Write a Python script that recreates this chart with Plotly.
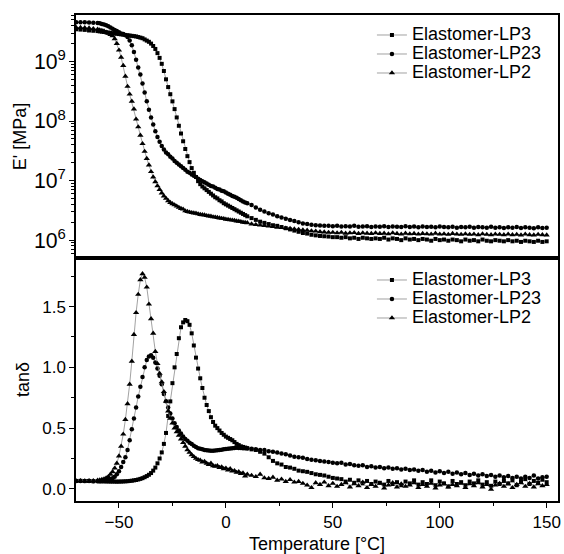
import plotly.graph_objects as go

# Temperature grid [°C]
temperature = [
    -70, -68, -66, -64, -62, -60,
    -59, -58, -57, -56, -55, -54, -53, -52, -51, -50,
    -49, -48, -47, -46, -45, -44, -43, -42, -41, -40,
    -39, -38, -37, -36, -35, -34, -33, -32, -31, -30,
    -29, -28, -27, -26, -25, -24, -23, -22, -21, -20,
    -19, -18, -17, -16, -15, -14, -13, -12, -11, -10,
    -9, -8, -7, -6, -5, -4, -3, -2, -1, 0,
    1, 2, 3, 4, 5, 6, 7, 8, 9, 10,
    12, 14, 16, 18, 20, 22, 24, 26, 28, 30,
    32, 34, 36, 38, 40, 42, 44, 46, 48, 50,
    52, 54, 56, 58, 60, 62, 64, 66, 68, 70,
    72, 74, 76, 78, 80, 82, 84, 86, 88, 90,
    92, 94, 96, 98, 100, 102, 104, 106, 108, 110,
    112, 114, 116, 118, 120, 122, 124, 126, 128, 130,
    132, 134, 136, 138, 140, 142, 144, 146, 148, 150,
]

# log10 of storage modulus E' [MPa]
log_E_LP3 = [
    9.54, 9.535, 9.53, 9.52, 9.515, 9.51,
    9.505, 9.50, 9.495, 9.49, 9.485, 9.48, 9.475, 9.47, 9.465, 9.46,
    9.455, 9.45, 9.445, 9.44, 9.435, 9.43, 9.425, 9.42, 9.41, 9.40,
    9.39, 9.37, 9.35, 9.33, 9.30, 9.26, 9.21, 9.14, 9.06, 8.96,
    8.84, 8.70, 8.57, 8.45, 8.33, 8.20, 8.06, 7.92, 7.79, 7.66,
    7.53, 7.41, 7.31, 7.21, 7.13, 7.06, 6.99, 6.94, 6.90, 6.87,
    6.84, 6.81, 6.78, 6.75, 6.72, 6.70, 6.67, 6.65, 6.62, 6.60,
    6.58, 6.56, 6.54, 6.52, 6.50, 6.48, 6.46, 6.44, 6.42, 6.40,
    6.37, 6.34, 6.31, 6.29, 6.27, 6.25, 6.24, 6.22, 6.20, 6.18,
    6.16, 6.14, 6.12, 6.11, 6.09, 6.08, 6.07, 6.065, 6.06, 6.05,
    6.05, 6.04, 6.05, 6.03, 6.04, 6.02, 6.04, 6.03, 6.02, 6.03,
    6.02, 6.04, 6.01, 6.03, 6.02, 6.00, 6.03, 6.01, 6.02, 6.00,
    6.02, 6.01, 5.99, 6.02, 6.00, 6.01, 5.99, 6.01, 6.00, 5.98,
    6.01, 5.99, 6.00, 5.98, 6.01, 5.99, 5.98, 6.00, 5.99, 5.98,
    6.00, 5.98, 5.99, 5.97, 5.99, 5.98, 5.97, 5.99, 5.97, 5.98,
]
log_E_LP23 = [
    9.66, 9.66, 9.66, 9.655, 9.65, 9.645,
    9.64, 9.63, 9.62, 9.61, 9.59, 9.57, 9.55, 9.53, 9.51, 9.49,
    9.47, 9.46, 9.44, 9.41, 9.35, 9.27, 9.16, 9.03, 8.90, 8.78,
    8.63, 8.48, 8.33, 8.19, 8.06, 7.94, 7.83, 7.73, 7.65, 7.58,
    7.52, 7.47, 7.44, 7.40, 7.37, 7.33, 7.30, 7.27, 7.24, 7.21,
    7.18, 7.15, 7.13, 7.10, 7.08, 7.06, 7.03, 7.01, 6.99, 6.97,
    6.95, 6.93, 6.91, 6.90, 6.88, 6.86, 6.85, 6.83, 6.82, 6.80,
    6.78, 6.76, 6.74, 6.73, 6.71, 6.69, 6.67, 6.65, 6.63, 6.62,
    6.59, 6.55, 6.51, 6.48, 6.45, 6.43, 6.40, 6.38, 6.36, 6.34,
    6.32, 6.30, 6.28, 6.27, 6.26, 6.25, 6.245, 6.24, 6.24, 6.235,
    6.24, 6.23, 6.235, 6.23, 6.24, 6.225, 6.23, 6.235, 6.22, 6.23,
    6.225, 6.235, 6.22, 6.23, 6.225, 6.22, 6.235, 6.22, 6.23, 6.215,
    6.23, 6.22, 6.225, 6.215, 6.23, 6.22, 6.215, 6.225, 6.21, 6.22,
    6.215, 6.225, 6.21, 6.22, 6.215, 6.21, 6.225, 6.21, 6.215, 6.205,
    6.215, 6.21, 6.22, 6.205, 6.215, 6.21, 6.20, 6.215, 6.205, 6.21,
]
log_E_LP2 = [
    9.57, 9.57, 9.565, 9.56, 9.55, 9.54,
    9.53, 9.52, 9.51, 9.49, 9.47, 9.45, 9.43, 9.38, 9.30, 9.19,
    9.07, 8.93, 8.75, 8.58, 8.45, 8.33, 8.20, 8.03, 7.90, 7.76,
    7.62, 7.49, 7.37, 7.26, 7.15, 7.06, 6.98, 6.91, 6.85, 6.79,
    6.74, 6.70, 6.66, 6.63, 6.61, 6.59, 6.57, 6.55, 6.53, 6.52,
    6.49, 6.48, 6.47, 6.46, 6.455, 6.45, 6.44, 6.43, 6.425, 6.42,
    6.41, 6.405, 6.40, 6.39, 6.385, 6.38, 6.37, 6.365, 6.36, 6.35,
    6.345, 6.34, 6.335, 6.33, 6.32, 6.315, 6.31, 6.30, 6.295, 6.29,
    6.27, 6.26, 6.25, 6.245, 6.235, 6.225, 6.215, 6.21, 6.20, 6.195,
    6.185, 6.18, 6.17, 6.165, 6.155, 6.15, 6.14, 6.135, 6.13, 6.13,
    6.12, 6.13, 6.115, 6.12, 6.125, 6.11, 6.12, 6.115, 6.11, 6.12,
    6.11, 6.115, 6.105, 6.12, 6.11, 6.10, 6.115, 6.105, 6.11, 6.10,
    6.11, 6.105, 6.10, 6.115, 6.10, 6.105, 6.095, 6.11, 6.10, 6.095,
    6.105, 6.095, 6.10, 6.09, 6.105, 6.095, 6.09, 6.10, 6.095, 6.09,
    6.10, 6.09, 6.095, 6.085, 6.10, 6.09, 6.085, 6.095, 6.09, 6.085,
]

# loss factor tan delta
tan_LP3 = [
    0.065, 0.066, 0.064, 0.065, 0.063, 0.064,
    0.063, 0.062, 0.062, 0.061, 0.061, 0.060, 0.060, 0.060, 0.059, 0.060,
    0.060, 0.061, 0.062, 0.063, 0.065, 0.067, 0.070, 0.073, 0.077, 0.082,
    0.088, 0.096, 0.105, 0.116, 0.13, 0.15, 0.175, 0.21, 0.25, 0.30,
    0.37, 0.46, 0.60, 0.72, 0.87, 1.00, 1.11, 1.24, 1.33, 1.37,
    1.39, 1.38, 1.35, 1.28, 1.18, 1.08, 0.99, 0.91, 0.83, 0.75,
    0.69, 0.64, 0.59, 0.55, 0.52, 0.50, 0.48, 0.46, 0.445, 0.43,
    0.42, 0.41, 0.40, 0.385, 0.37, 0.36, 0.35, 0.345, 0.34, 0.335,
    0.325, 0.32, 0.305, 0.29, 0.26, 0.23, 0.21, 0.20, 0.18, 0.175,
    0.165, 0.15, 0.145, 0.14, 0.13, 0.12, 0.115, 0.11, 0.10, 0.09,
    0.085, 0.08, 0.06, 0.075, 0.05, 0.07, 0.045, 0.065, 0.04, 0.06,
    0.05, 0.035, 0.065, 0.04, 0.055, 0.03, 0.06, 0.045, 0.07, 0.035,
    0.055, 0.04, 0.07, 0.03, 0.06, 0.045, 0.02, 0.065, 0.04, 0.055,
    0.03, 0.06, 0.045, 0.07, 0.035, 0.055, 0.025, 0.06, 0.04, 0.065,
    0.045, 0.07, 0.03, 0.06, 0.08, 0.04, 0.065, 0.05, 0.075, 0.055,
]
tan_LP23 = [
    0.065, 0.064, 0.065, 0.064, 0.063, 0.063,
    0.063, 0.064, 0.066, 0.068, 0.072, 0.078, 0.088, 0.10, 0.12, 0.145,
    0.18, 0.22, 0.26, 0.32, 0.40, 0.49, 0.58, 0.67, 0.76, 0.84,
    0.92, 1.00, 1.06, 1.09, 1.10, 1.08, 1.04, 0.99, 0.93, 0.86,
    0.78, 0.72, 0.67, 0.62, 0.58, 0.54, 0.51, 0.48, 0.455, 0.43,
    0.41, 0.395, 0.38, 0.37, 0.355, 0.345, 0.335, 0.33, 0.325, 0.32,
    0.318, 0.315, 0.313, 0.313, 0.315, 0.318, 0.32, 0.322, 0.325, 0.328,
    0.33, 0.333, 0.335, 0.337, 0.338, 0.337, 0.336, 0.335, 0.334, 0.332,
    0.33, 0.325, 0.32, 0.32, 0.31, 0.305, 0.30, 0.29, 0.285, 0.275,
    0.265, 0.26, 0.255, 0.245, 0.24, 0.235, 0.23, 0.225, 0.22, 0.215,
    0.21, 0.215, 0.20, 0.205, 0.195, 0.19, 0.195, 0.18, 0.185, 0.175,
    0.18, 0.17, 0.175, 0.165, 0.17, 0.16, 0.165, 0.155, 0.16, 0.15,
    0.155, 0.14, 0.15, 0.135, 0.145, 0.13, 0.14, 0.125, 0.135, 0.12,
    0.13, 0.115, 0.125, 0.11, 0.12, 0.105, 0.115, 0.10, 0.11, 0.095,
    0.105, 0.09, 0.10, 0.085, 0.10, 0.09, 0.11, 0.085, 0.095, 0.10,
]
tan_LP2 = [
    0.065, 0.066, 0.065, 0.066, 0.067, 0.07,
    0.072, 0.076, 0.082, 0.09, 0.10, 0.12, 0.14, 0.17, 0.21, 0.27,
    0.35, 0.45, 0.57, 0.70, 0.86, 1.05, 1.27, 1.45, 1.60, 1.72,
    1.77, 1.74, 1.66, 1.52, 1.40, 1.28, 1.13, 1.03, 0.95, 0.88,
    0.80, 0.72, 0.64, 0.58, 0.54, 0.50, 0.47, 0.44, 0.41, 0.38,
    0.35, 0.32, 0.30, 0.28, 0.265, 0.25, 0.24, 0.235, 0.22, 0.225,
    0.21, 0.20, 0.21, 0.19, 0.185, 0.19, 0.175, 0.18, 0.165, 0.17,
    0.155, 0.165, 0.145, 0.15, 0.135, 0.14, 0.125, 0.13, 0.105, 0.12,
    0.11, 0.10, 0.12, 0.09, 0.085, 0.095, 0.07, 0.08, 0.06, 0.075,
    0.055, 0.06, 0.045, 0.03, 0.01, 0.05, 0.035, 0.055, 0.025, 0.045,
    0.02, 0.035, 0.05, 0.015, 0.04, 0.025, 0.055, 0.01, 0.035, 0.02,
    0.045, 0.005, 0.03, 0.05, 0.015, 0.04, 0.02, 0.03, 0.05, 0.01,
    0.035, 0.02, 0.045, 0.005, 0.03, 0.04, 0.015, 0.035, 0.025, 0.045,
    0.01, 0.04, 0.025, 0.05, 0.015, 0.035, -0.005, 0.03, 0.045, 0.02,
    0.04, 0.01, 0.035, 0.05, 0.02, 0.045, 0.015, 0.04, 0.025, 0.035,
]

series_names = ["Elastomer-LP3", "Elastomer-LP23", "Elastomer-LP2"]
series_logE = [log_E_LP3, log_E_LP23, log_E_LP2]
series_tan = [tan_LP3, tan_LP23, tan_LP2]
symbols = ["square", "circle", "triangle-up"]
sizes = [4, 4.5, 5.5]

LINE = dict(color="#8a8a8a", width=0.8)
LEGEND_TEXT = '<span style="font-size:18px">{}</span>'

fig = go.Figure()
for name, logE, tan, sym, sz in zip(series_names, series_logE, series_tan, symbols, sizes):
    fig.add_trace(go.Scatter(
        x=temperature, y=[10 ** v for v in logE], name=LEGEND_TEXT.format(name),
        xaxis="x2", yaxis="y2", mode="lines+markers", legend="legend",
        line=LINE, marker=dict(symbol=sym, size=sz, color="black", line=dict(width=0)),
    ))
    fig.add_trace(go.Scatter(
        x=temperature, y=tan, name=LEGEND_TEXT.format(name),
        xaxis="x", yaxis="y", mode="lines+markers", legend="legend2",
        line=LINE, marker=dict(symbol=sym, size=sz, color="black", line=dict(width=0)),
    ))

axis_common = dict(showline=True, linecolor="black", linewidth=1.5, mirror=True,
                   showgrid=False, zeroline=False, tickcolor="black",
                   tickfont=dict(size=17))

fig.update_layout(
    width=564, height=554,
    margin=dict(l=76, r=3, t=15, b=53),
    paper_bgcolor="white", plot_bgcolor="white",
    font=dict(family="Liberation Sans, Arial, sans-serif", size=17, color="black"),
    xaxis=dict(domain=[0, 1], anchor="y", range=[-70.1, 155.3],
               tickvals=[-50, 0, 50, 100, 150], ticks="outside", ticklen=5, tickwidth=1,
               minor=dict(dtick=25, tick0=0, ticks="outside", ticklen=3, tickcolor="black"),
               title=dict(text="Temperature [°C]", font=dict(size=18), standoff=6),
               automargin=True,
               **axis_common),
    xaxis2=dict(domain=[0, 1], anchor="y2", matches="x", showticklabels=False, ticks="",
                **axis_common),
    yaxis=dict(domain=[0, 0.5], anchor="x", range=[-0.1, 1.9],
               tickvals=[0, 0.5, 1.0, 1.5], ticktext=["0.0", "0.5", "1.0", "1.5"],
               ticks="outside", ticklen=5, tickwidth=1,
               minor=dict(dtick=0.25, tick0=0, ticks="outside", ticklen=3, tickcolor="black"),
               title=dict(text="tanδ", font=dict(size=18), standoff=8),
               automargin=True,
               **axis_common),
    yaxis2=dict(domain=[0.5, 1], anchor="x2", type="log", range=[5.70, 9.78],
                dtick=1, exponentformat="power", showexponent="all",
                ticks="outside", ticklen=5, tickwidth=1,
                minor=dict(ticks="outside", ticklen=3, tickcolor="black", dtick="D1"),
                title=dict(text="E' [MPa]", font=dict(size=18), standoff=3),
                automargin=True,
                **axis_common),
    legend=dict(x=0.614, xanchor="left", y=0.9887, yanchor="top",
                font=dict(size=12), bgcolor="rgba(0,0,0,0)", borderwidth=0,
                itemwidth=30, tracegroupgap=0),
    legend2=dict(x=0.614, xanchor="left", y=0.4846, yanchor="top",
                 font=dict(size=12), bgcolor="rgba(0,0,0,0)", borderwidth=0,
                 itemwidth=30, tracegroupgap=0),
)

fig.write_html("out.html")
